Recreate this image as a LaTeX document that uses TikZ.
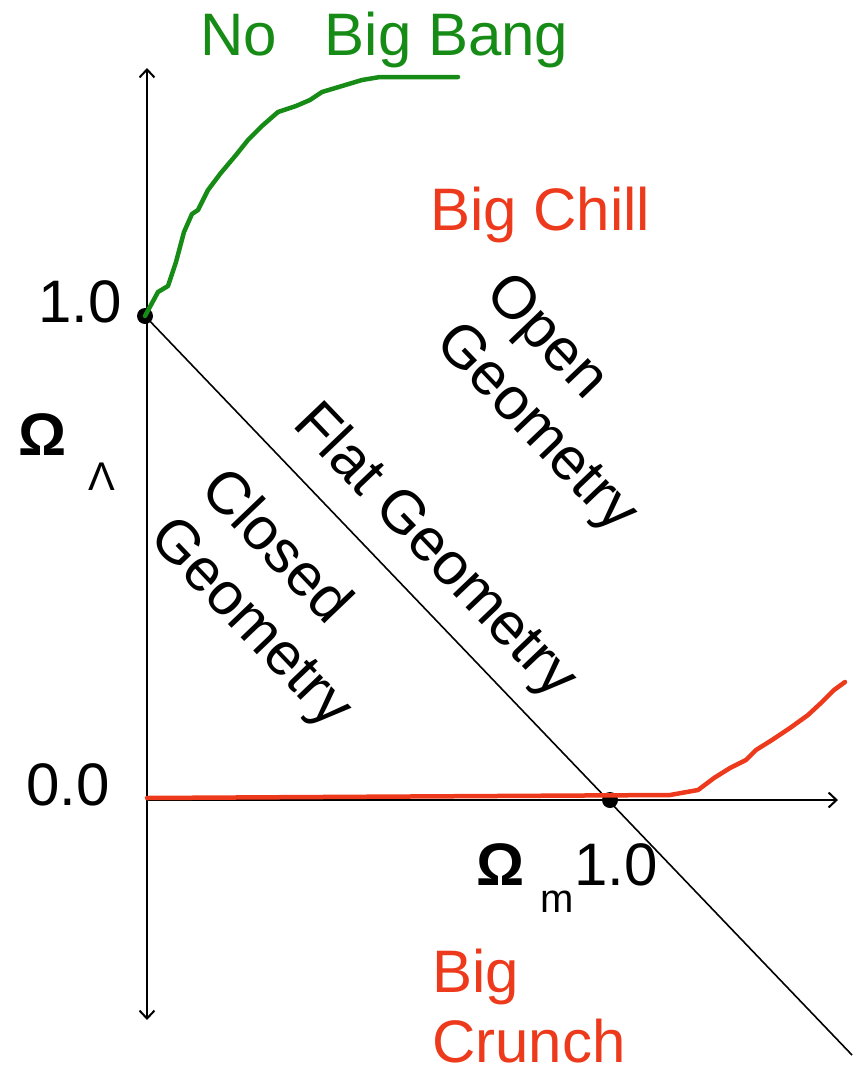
\documentclass[tikz,border=0pt]{standalone}
\usepackage{fontspec}
\setmainfont{Liberation Sans}
\usepackage{xcolor}
\usetikzlibrary{arrows.meta, positioning, calc}

\definecolor{bangGreen}{RGB}{22,140,22}
\definecolor{chillRed}{RGB}{238,58,28}

\begin{document}
\begin{tikzpicture}[x=1pt, y=-1pt,
  >={Straight Barb[length=8pt, width=15pt]},
  lbl/.style={font=\fontsize{60}{70}\selectfont, inner sep=0pt},
  small/.style={font=\fontsize{40}{44}\selectfont, inner sep=0pt},
  geo/.style={lbl, align=left, rotate=-46.3},
  dot/.style={circle, fill=black, inner sep=0pt, minimum size=16pt}]
\useasboundingbox (0,0) rectangle (858,1071);

% axes
\coordinate (top) at (147,68);
\coordinate (bot) at (147,1020);
\coordinate (orig) at (147,800);
\coordinate (right) at (838,800);
\draw[<->, line width=2pt] (bot) -- (top);
\draw[->, line width=2pt] (orig) -- (right);

% the flat line
\node[dot] (lam) at (145,316) {};
\node[dot] (mat) at (610,800) {};
\coordinate (far) at (852,1055);
\draw[line width=1.6pt] (lam.center) -- (far);

% No Big Bang boundary
\draw[bangGreen, line width=4.5pt, line join=round, line cap=round] (lam.center)
  -- (158,292) -- (168,286) -- (176,262) -- (184,232) -- (192,214) -- (198,210)
  -- (208,190) -- (220,174) -- (236,155) -- (248,140) -- (262,126) -- (278,112)
  -- (296,106) -- (310,100) -- (322,92) -- (342,86) -- (362,80) -- (380,77) -- (458,77);

% Big Crunch boundary
\draw[chillRed, line width=4.5pt, line join=round, line cap=round] (147,798) -- (670,795)
  -- (698,790) -- (714,778) -- (730,768) -- (746,760) -- (756,750) -- (772,740)
  -- (790,728) -- (808,715) -- (822,702) -- (834,690) -- (845,682);

% axis labels
\node[lbl, anchor=base east] (one) at (122,322) {1.0};
\node[lbl, anchor=base east] (zero) at (110,805) {0.0};
\node[lbl, anchor=base west] (omL) at (18,455) {\textbf{Ω}};
\node[small, anchor=base west] (lamSub) at (88,490) {Λ};
\node[lbl, anchor=base west] (omM) at (476,885) {\textbf{Ω}};
\node[small, anchor=base west] (mSub) at (540,912) {m};
\node[lbl, anchor=base west] (oneM) at (574,885) {1.0};

% regions
\node[lbl, text=bangGreen, anchor=base west] (bang) at (200,55) {No\hspace{0.8em}Big Bang};
\node[lbl, text=chillRed, anchor=base west] (chill) at (430,230) {Big Chill};
\node[lbl, text=chillRed, anchor=base west] (big) at (432,992) {Big};
\node[lbl, text=chillRed, anchor=base west] (crunch) at (432,1062) {Crunch};
\node[geo] (open) at (560,405) {Open\\Geometry};
\node[geo] (flat) at (434,552) {Flat Geometry};
\node[geo] (closed) at (275,600) {Closed\\Geometry};
\end{tikzpicture}
\end{document}
